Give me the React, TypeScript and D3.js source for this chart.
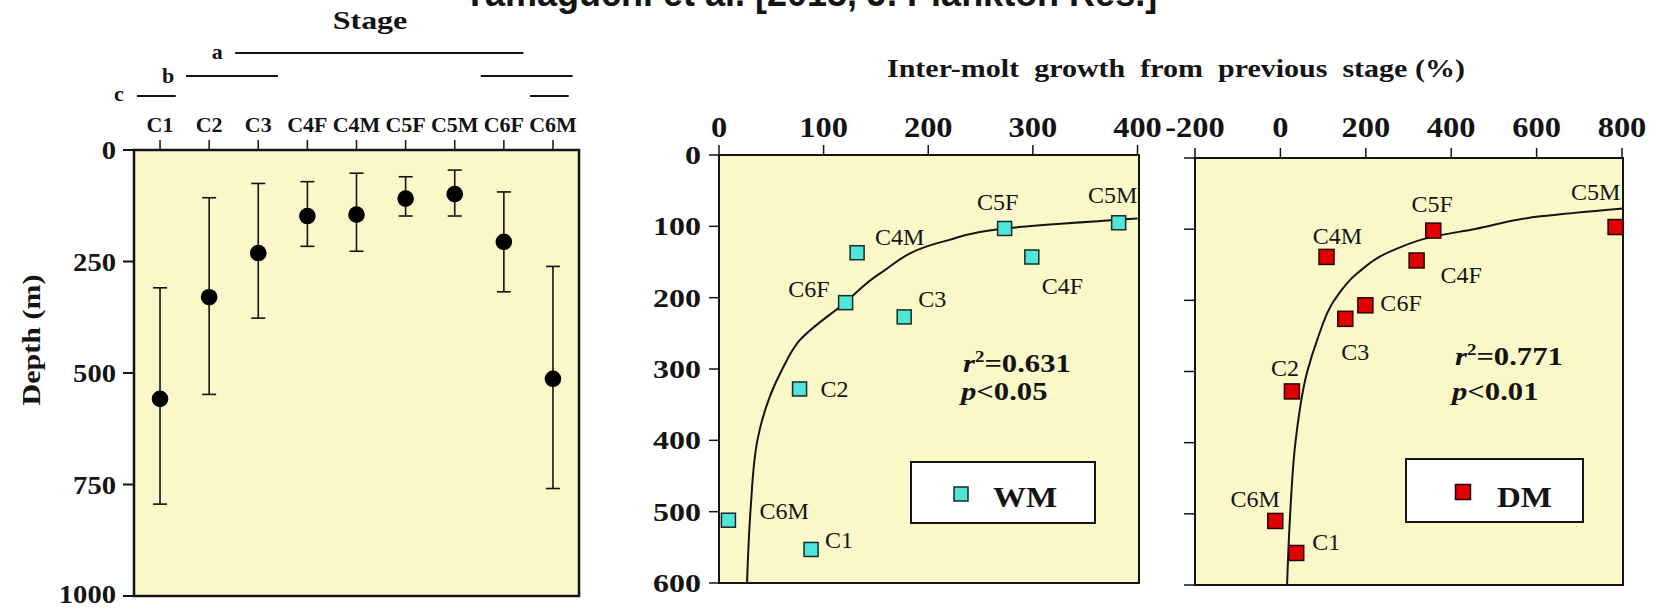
import React from 'react';
import * as d3 from 'd3';

// ---------- data ----------
const stages = ['C1', 'C2', 'C3', 'C4F', 'C4M', 'C5F', 'C5M', 'C6F', 'C6M'];
const stageDepthMean = [558, 330, 231, 148, 145, 109, 99, 206, 513];
const stageDepthShallow = [309, 107, 75, 71, 52, 60, 45, 94, 261];
const stageDepthDeep = [794, 548, 377, 216, 227, 148, 148, 318, 759];
const depthTicksLeft = [0, 250, 500, 750, 1000];

const sigLetters = ['a', 'b', 'c'];
const sigSpans: string[][][] = [
  [['C3', 'C6F']],
  [['C2', 'C3'], ['C6F', 'C6M']],
  [['C1', 'C1'], ['C6M', 'C6M']],
];

const wmGrowth = [88, 77, 177, 299, 132, 273, 382, 121, 9];
const wmDepth = [553, 328, 227, 143, 137, 103, 95, 207, 512];
const dmGrowth = [37, 27, 152, 319, 108, 358, 785, 199, -12];
const dmDepth = [555, 328, 226, 144, 139, 102, 97, 207, 510];

const wmFitDepth = [89, 103, 120, 166, 207, 260, 301, 399, 499, 600];
const wmFitGrowth = [400, 272.8, 217.6, 154, 120.5, 77, 60.2, 36.8, 30.1, 26.8];
const dmFitDepth = [70.7, 82, 100, 110.5, 129, 162, 201, 256, 301, 401, 499, 600];
const dmFitGrowth = [805, 609, 453, 358, 266, 180, 125, 86, 62.5, 35, 23, 15.6];

const wmTicksX = [0, 100, 200, 300, 400];
const dmTicksX = [-200, 0, 200, 400, 600, 800];
const depthTicksRight = [0, 100, 200, 300, 400, 500, 600];

const wmStats = ['0.631', '0.05'];
const dmStats = ['0.771', '0.01'];

// ---------- layout / style ----------
const W = 1656, H = 609;
const serif = '"Liberation Serif", "Times New Roman", Times, serif';
const sans = '"Liberation Sans", Arial, Helvetica, sans-serif';
const bg = '#FAF7C8';
const ink = '#141414';

const wmLabelPos: Record<string, [number, number, string]> = {
  C1: [14, -1, 'start'], C2: [21, 8, 'start'], C3: [14, -10, 'start'],
  C4F: [10, 37, 'start'], C4M: [18, -8, 'start'], C5F: [-7, -18, 'middle'],
  C5M: [-6, -20, 'middle'], C6F: [-16, -6, 'end'], C6M: [31, -1, 'start'],
};
const dmLabelPos: Record<string, [number, number, string]> = {
  C1: [16, -3, 'start'], C2: [-7, -15, 'middle'], C3: [10, 41, 'middle'],
  C4F: [24, 23, 'start'], C4M: [11, -13, 'middle'], C5F: [-1, -19, 'middle'],
  C5M: [-20, -27, 'middle'], C6F: [15, 6, 'start'], C6M: [-20, -14, 'middle'],
};

function T(props: any) {
  const { x, y, size, weight = 'bold', anchor = 'start', sx = 1, family = serif, children, italic, pre } = props;
  return (
    <text
      transform={`translate(${x},${y}) scale(${sx},1)`}
      fontSize={size}
      fontWeight={weight}
      fontStyle={italic ? 'italic' : 'normal'}
      textAnchor={anchor}
      fontFamily={family}
      fill={ink}
      style={pre ? { whiteSpace: 'pre' } : undefined}
    >
      {children}
    </text>
  );
}

export default function App() {
  // left panel
  const L = { x0: 134, x1: 579, y0: 150, y1: 596 };
  const xCat = d3.scalePoint<string>().domain(stages).range([L.x0, L.x1]).padding(0.53);
  const yL = d3.scaleLinear().domain([0, 1000]).range([L.y0, L.y1]);
  const step = xCat.step();

  // middle panel (WM)
  const M = { x0: 719, x1: 1139, y0: 155, y1: 583 };
  const xW = d3.scaleLinear().domain([0, 400]).range([719, 1137.5]);
  const yW = d3.scaleLinear().domain([0, 600]).range([M.y0, M.y1]);

  // right panel (DM)
  const R = { x0: 1195, x1: 1623, y0: 158, y1: 585 };
  const xD = d3.scaleLinear().domain([-200, 800]).range([1195, 1622]);
  const yD = d3.scaleLinear().domain([0, 600]).range([R.y0, R.y1]);

  const wmFit = wmFitDepth.map((d, i) => [wmFitGrowth[i], d] as [number, number]);
  const dmFit = dmFitDepth.map((d, i) => [dmFitGrowth[i], d] as [number, number]);
  const lineW = d3.line<[number, number]>().x(d => xW(d[0])).y(d => yW(d[1])).curve(d3.curveMonotoneY);
  const lineD = d3.line<[number, number]>().x(d => xD(d[0])).y(d => yD(d[1])).curve(d3.curveMonotoneY);

  const sq = 14;

  return (
    <svg width={W} height={H} style={{ position: 'absolute', left: 0, top: 0, background: '#fff' }}>
      <defs>
        <clipPath id="clipW"><rect x={M.x0} y={M.y0} width={M.x1 - M.x0} height={M.y1 - M.y0} /></clipPath>
        <clipPath id="clipD"><rect x={R.x0} y={R.y0} width={R.x1 - R.x0} height={R.y1 - R.y0} /></clipPath>
      </defs>

      {/* title (cut off at the top in the reference) */}
      <T x={810} y={6} size={36} family={sans} anchor="middle">Yamaguchi et al. [2015, J. Plankton Res.]</T>

      {/* ===== Left panel ===== */}
      <T x={370} y={29} size={26} anchor="middle" sx={1.23}>Stage</T>
      {sigLetters.map((letter, gi) => {
        const yy = [53, 76, 96][gi];
        const spans = sigSpans[gi];
        const first = xCat(spans[0][0])! - 0.47 * step;
        return (
          <g key={letter}>
            <T x={first - 18} y={yy + [6, 7, 5][gi]} size={22} anchor="middle">{letter}</T>
            {spans.map(([s, e], k) => (
              <line key={k} x1={xCat(s)! - 0.47 * step} x2={xCat(e)! + (s === e ? 0.32 : 0.4) * step} y1={yy} y2={yy} stroke={ink} strokeWidth={2} />
            ))}
          </g>
        );
      })}
      <rect x={L.x0} y={L.y0} width={L.x1 - L.x0} height={L.y1 - L.y0} fill={bg} stroke={ink} strokeWidth={2.5} />
      {stages.map(s => (
        <g key={s}>
          <line x1={xCat(s)} x2={xCat(s)} y1={L.y0} y2={L.y0 - 10} stroke={ink} strokeWidth={1.5} />
          <T x={xCat(s)} y={132} size={22} anchor="middle">{s}</T>
        </g>
      ))}
      {depthTicksLeft.map(t => (
        <g key={t}>
          <line x1={L.x0 - 11} x2={L.x0} y1={yL(t)} y2={yL(t)} stroke={ink} strokeWidth={2} />
          <T x={L.x0 - 18} y={Math.min(yL(t) + 9, 603)} size={26} anchor="end" sx={1.1}>{t}</T>
        </g>
      ))}
      <text transform="translate(40,340) rotate(-90) scale(1.2,1)" fontSize={25} fontWeight="bold" textAnchor="middle" fontFamily={serif} fill={ink}>Depth (m)</text>
      {stages.map((s, i) => {
        const x = xCat(s)!;
        return (
          <g key={s}>
            <line x1={x} x2={x} y1={yL(stageDepthShallow[i])} y2={yL(stageDepthDeep[i])} stroke={ink} strokeWidth={1.6} />
            <line x1={x - 7} x2={x + 7} y1={yL(stageDepthShallow[i])} y2={yL(stageDepthShallow[i])} stroke={ink} strokeWidth={1.6} />
            <line x1={x - 7} x2={x + 7} y1={yL(stageDepthDeep[i])} y2={yL(stageDepthDeep[i])} stroke={ink} strokeWidth={1.6} />
            <circle cx={x} cy={yL(stageDepthMean[i])} r={8.3} fill="#000" />
          </g>
        );
      })}

      {/* ===== Axis title shared ===== */}
      <T x={887} y={77} size={25} sx={1.2} pre>{'Inter-molt  growth  from  previous  stage (%)'}</T>

      {/* ===== Middle panel (WM) ===== */}
      <rect x={M.x0} y={M.y0} width={M.x1 - M.x0} height={M.y1 - M.y0} fill={bg} stroke={ink} strokeWidth={2} />
      {wmTicksX.map(t => (
        <g key={t}>
          <line x1={xW(t)} x2={xW(t)} y1={M.y0} y2={M.y0 - 10} stroke={ink} strokeWidth={1.5} />
          <T x={xW(t)} y={137} size={29} anchor="middle" sx={1.12}>{t}</T>
        </g>
      ))}
      {depthTicksRight.map(t => (
        <g key={t}>
          <line x1={M.x0 - 10} x2={M.x0} y1={yW(t)} y2={yW(t)} stroke={ink} strokeWidth={1.5} />
          <T x={M.x0 - 18} y={yW(t) + 9} size={25} anchor="end" sx={1.28}>{t}</T>
        </g>
      ))}
      <path d={lineW(wmFit) || ''} fill="none" stroke={ink} strokeWidth={2} clipPath="url(#clipW)" />
      {stages.map((s, i) => {
        const x = xW(wmGrowth[i]), y = yW(wmDepth[i]);
        const [dx, dy, anc] = wmLabelPos[s];
        return (
          <g key={s}>
            <rect x={x - sq / 2} y={y - sq / 2} width={sq} height={sq} fill="#4FE6D8" stroke="#1a2a2a" strokeWidth={1.5} />
            <T x={x + dx} y={y + dy} size={24} weight="normal" anchor={anc}>{s}</T>
          </g>
        );
      })}
      <text transform="translate(963,372) scale(1.18,1)" fontSize={26} fontWeight="bold" fontFamily={serif} fill={ink}>
        <tspan fontStyle="italic">r</tspan><tspan dy={-10} fontSize={16}>2</tspan><tspan dy={10}>={wmStats[0]}</tspan>
      </text>
      <text transform="translate(961,400) scale(1.18,1)" fontSize={26} fontWeight="bold" fontFamily={serif} fill={ink}>
        <tspan fontStyle="italic">p</tspan><tspan>{'<' + wmStats[1]}</tspan>
      </text>
      <rect x={911} y={462} width={184} height={61} fill="#fff" stroke={ink} strokeWidth={2} />
      <rect x={961 - 7} y={494 - 7} width={14} height={14} fill="#4FE6D8" stroke="#1a2a2a" strokeWidth={1.5} />
      <T x={993} y={507} size={30} sx={1.1}>WM</T>

      {/* ===== Right panel (DM) ===== */}
      <rect x={R.x0} y={R.y0} width={R.x1 - R.x0} height={R.y1 - R.y0} fill={bg} stroke={ink} strokeWidth={2} />
      {dmTicksX.map(t => (
        <g key={t}>
          <line x1={xD(t)} x2={xD(t)} y1={R.y0} y2={R.y0 - 10} stroke={ink} strokeWidth={1.5} />
          <T x={xD(t)} y={137} size={29} anchor="middle" sx={1.12}>{t}</T>
        </g>
      ))}
      {depthTicksRight.map(t => (
        <line key={t} x1={R.x0 - 11} x2={R.x0} y1={yD(t)} y2={yD(t)} stroke={ink} strokeWidth={1.5} />
      ))}
      <path d={lineD(dmFit) || ''} fill="none" stroke={ink} strokeWidth={2} clipPath="url(#clipD)" />
      {stages.map((s, i) => {
        const x = xD(dmGrowth[i]), y = yD(dmDepth[i]);
        const [dx, dy, anc] = dmLabelPos[s];
        return (
          <g key={s}>
            <rect x={x - 7.5} y={y - 7.5} width={15} height={15} fill="#E00000" stroke="#2a0000" strokeWidth={1.5} />
            <T x={x + dx} y={y + dy} size={24} weight="normal" anchor={anc}>{s}</T>
          </g>
        );
      })}
      <text transform="translate(1455,365) scale(1.18,1)" fontSize={26} fontWeight="bold" fontFamily={serif} fill={ink}>
        <tspan fontStyle="italic">r</tspan><tspan dy={-10} fontSize={16}>2</tspan><tspan dy={10}>={dmStats[0]}</tspan>
      </text>
      <text transform="translate(1452,400) scale(1.18,1)" fontSize={26} fontWeight="bold" fontFamily={serif} fill={ink}>
        <tspan fontStyle="italic">p</tspan><tspan>{'<' + dmStats[1]}</tspan>
      </text>
      <rect x={1406} y={459} width={177} height={63} fill="#fff" stroke={ink} strokeWidth={2} />
      <rect x={1463 - 7.5} y={492 - 7.5} width={15} height={15} fill="#E00000" stroke="#2a0000" strokeWidth={1.5} />
      <T x={1497} y={507} size={30} sx={1.1}>DM</T>
    </svg>
  );
}
